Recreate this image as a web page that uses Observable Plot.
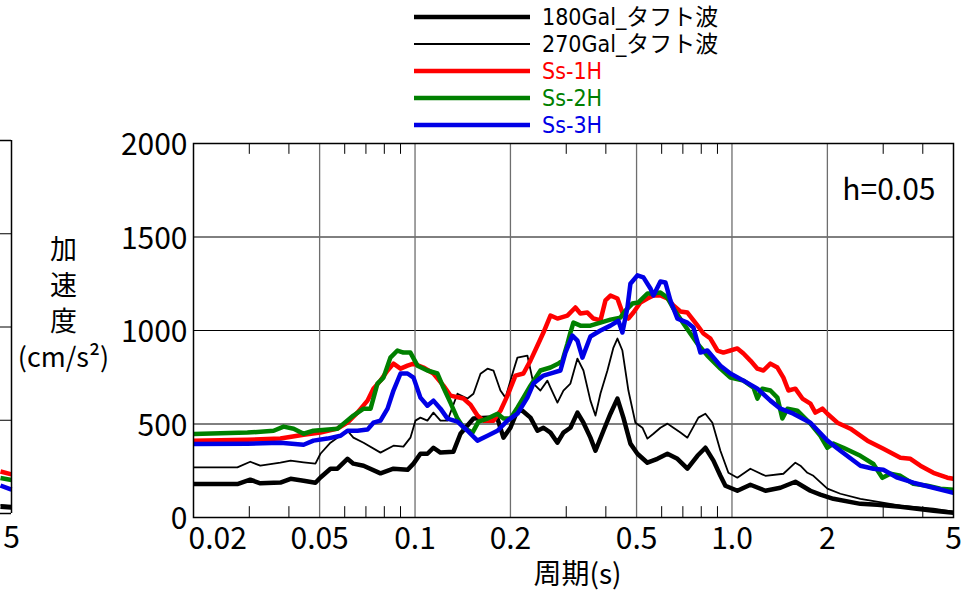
<!DOCTYPE html>
<html><head><meta charset="utf-8">
<script src="https://cdn.jsdelivr.net/npm/d3@7"></script>
<script src="https://cdn.jsdelivr.net/npm/@observablehq/plot@0.6"></script>
<style>
body{margin:0;background:#fff;}
#wrap{position:relative;width:967px;height:599px;overflow:hidden;}
#wrap svg{position:absolute;left:0;top:0;}
</style></head><body><div id="wrap"></div>
<script>
// ---- tick values and labels ----
const xTickValues = [0.02, 0.05, 0.1, 0.2, 0.5, 1, 2, 5];
const xTickLabels = ["0.02", "0.05", "0.1", "0.2", "0.5", "1.0", "2", "5"];
const xGrid = [0.05, 0.1, 0.2, 0.5, 1, 2];
const xMinor = [0.03, 0.04, 0.06, 0.07, 0.08, 0.09, 0.3, 0.4, 0.6, 0.7, 0.8, 0.9, 3, 4];
const yTickValues = [0, 500, 1000, 1500, 2000];
const yTickLabels = ["0", "500", "1000", "1500", "2000"];
const yGrid = [500, 1000, 1500];

// ---- series (period s, acceleration cm/s2) ----
const seriesNames = ["180Gal_タフト波", "270Gal_タフト波", "Ss-1H", "Ss-2H", "Ss-3H"];

const taft180 = [[0.02,179],[0.0275,179],[0.0302,202],[0.0325,183],[0.0376,187],[0.0405,207],[0.0445,197],[0.0485,186],[0.0503,214],[0.0541,261],[0.0569,261],[0.0612,314],[0.0639,288],[0.0688,277],[0.0778,236],[0.0855,261],[0.0947,255],[0.0989,288],[0.104,341],[0.1094,341],[0.1143,373],[0.1203,347],[0.1322,352],[0.1391,448],[0.1529,529],[0.1693,534],[0.182,529],[0.1901,427],[0.2,480],[0.2104,571],[0.2182,571],[0.2313,534],[0.2434,464],[0.2542,480],[0.2675,454],[0.2814,400],[0.2939,454],[0.3092,480],[0.3254,561],[0.3399,507],[0.3576,427],[0.3709,357],[0.3931,464],[0.4136,555],[0.4351,636],[0.4544,534],[0.4781,395],[0.5031,341],[0.541,293],[0.5818,314],[0.6257,341],[0.6728,314],[0.7235,261],[0.7781,330],[0.8245,373],[0.874,304],[0.9194,223],[0.9534,170],[1.04,143],[1.143,175],[1.275,143],[1.422,159],[1.585,191],[1.768,143],[1.901,122],[2.089,100],[2.542,73],[2.876,68],[3.4,57],[4.32,36],[5,25]];

const taft270 = [[0.02,268],[0.0275,268],[0.0302,298],[0.0325,277],[0.0376,293],[0.0405,304],[0.0445,295],[0.0485,288],[0.0503,341],[0.0541,400],[0.0582,438],[0.0612,464],[0.0639,427],[0.0688,400],[0.0778,347],[0.0855,384],[0.0919,379],[0.0967,427],[0.1003,518],[0.104,534],[0.1094,518],[0.1143,561],[0.1203,518],[0.1266,518],[0.1361,662],[0.1464,636],[0.1529,662],[0.1609,769],[0.1693,796],[0.1768,786],[0.186,679],[0.1929,641],[0.2044,786],[0.2104,855],[0.2262,866],[0.2364,716],[0.2487,679],[0.2616,732],[0.2675,695],[0.2814,614],[0.2939,679],[0.3092,716],[0.3254,850],[0.3399,786],[0.3576,625],[0.3709,545],[0.3847,663],[0.4046,786],[0.4227,909],[0.4351,957],[0.4511,893],[0.4712,679],[0.4958,507],[0.5217,480],[0.541,422],[0.5652,448],[0.5947,480],[0.6257,502],[0.6536,480],[0.6877,454],[0.7235,427],[0.7837,534],[0.8245,555],[0.8675,507],[0.9194,357],[0.9744,239],[1.04,213],[1.143,261],[1.275,223],[1.453,234],[1.585,293],[1.644,277],[1.73,239],[1.807,223],[2.0,154],[2.198,127],[2.542,100],[3.4,63],[4.32,47],[5,31]];

const ss1h = [[0.02,411],[0.0296,416],[0.0376,422],[0.0445,443],[0.0503,454],[0.0569,475],[0.0612,507],[0.0658,561],[0.0708,625],[0.0739,689],[0.0778,732],[0.0819,786],[0.0855,823],[0.09,796],[0.0947,812],[0.0989,823],[0.1063,802],[0.1143,770],[0.1229,705],[0.1293,652],[0.1422,636],[0.1496,603],[0.1574,545],[0.1644,518],[0.1768,518],[0.186,571],[0.1957,652],[0.2074,759],[0.2198,770],[0.2313,839],[0.2434,920],[0.2542,989],[0.2675,1080],[0.2814,1064],[0.3025,1080],[0.3206,1123],[0.3325,1091],[0.3499,1096],[0.3655,1064],[0.3847,1054],[0.3989,1161],[0.4136,1187],[0.4351,1171],[0.4511,1096],[0.4712,1064],[0.4887,1096],[0.5142,1150],[0.541,1171],[0.5652,1187],[0.5947,1187],[0.6257,1171],[0.6536,1134],[0.6877,1102],[0.7235,1096],[0.7781,1027],[0.8126,984],[0.855,957],[0.8996,893],[0.9396,882],[0.9886,893],[1.04,904],[1.087,877],[1.143,839],[1.203,796],[1.257,786],[1.322,823],[1.391,802],[1.453,748],[1.507,679],[1.585,689],[1.668,636],[1.768,609],[1.833,561],[1.929,582],[2.0,555],[2.151,507],[2.365,475],[2.675,411],[3.004,368],[3.4,320],[3.656,314],[3.93,277],[4.32,239],[4.78,213],[5,207]];

const ss2h = [[0.02,447],[0.0296,454],[0.0358,464],[0.0385,486],[0.0414,475],[0.0445,448],[0.0478,464],[0.0569,475],[0.0595,502],[0.0639,545],[0.0688,582],[0.0724,582],[0.0761,716],[0.0795,748],[0.0836,855],[0.088,893],[0.0919,882],[0.0967,882],[0.1018,812],[0.1094,786],[0.1177,770],[0.1229,695],[0.1293,614],[0.1361,529],[0.1422,480],[0.1518,454],[0.1586,513],[0.1693,529],[0.182,555],[0.1901,529],[0.2,529],[0.2104,587],[0.2198,641],[0.2313,705],[0.2487,786],[0.2675,802],[0.2835,823],[0.2918,839],[0.3025,929],[0.3092,989],[0.316,1042],[0.3325,1026],[0.3576,1026],[0.3847,1042],[0.4136,1058],[0.4446,1069],[0.4611,1106],[0.4851,1144],[0.5068,1150],[0.541,1198],[0.5652,1198],[0.5947,1203],[0.6257,1176],[0.6536,1117],[0.7028,1037],[0.7781,929],[0.8366,866],[0.9194,796],[0.9886,748],[1.087,732],[1.169,695],[1.203,636],[1.247,689],[1.322,679],[1.391,641],[1.442,529],[1.496,582],[1.608,571],[1.768,502],[1.901,437],[2.0,373],[2.089,395],[2.247,373],[2.542,330],[2.794,286],[2.982,212],[3.16,234],[3.4,223],[3.736,180],[4.136,170],[4.544,154],[5,148]];

const ss3h = [[0.02,393],[0.0296,395],[0.0376,400],[0.0445,389],[0.0478,411],[0.0529,422],[0.0582,437],[0.0612,464],[0.0658,464],[0.0708,470],[0.0739,507],[0.0778,518],[0.0819,582],[0.0855,679],[0.09,770],[0.0947,770],[0.0989,748],[0.104,641],[0.1094,598],[0.1143,625],[0.1203,582],[0.1266,529],[0.1361,513],[0.1464,464],[0.1574,411],[0.1693,437],[0.182,464],[0.1957,518],[0.2104,555],[0.2262,641],[0.2364,716],[0.2542,759],[0.2734,775],[0.2876,786],[0.2982,882],[0.3137,973],[0.3254,946],[0.3374,855],[0.3576,968],[0.3847,1000],[0.4136,1026],[0.4383,1052],[0.4511,989],[0.4678,1122],[0.4781,1250],[0.5031,1295],[0.5255,1284],[0.553,1225],[0.5652,1187],[0.5947,1262],[0.6166,1257],[0.6395,1160],[0.6728,1063],[0.7235,1042],[0.7558,1016],[0.7951,882],[0.8366,893],[0.9194,812],[0.9886,770],[1.087,732],[1.203,689],[1.322,625],[1.422,582],[1.562,555],[1.768,507],[2.0,411],[2.198,357],[2.542,277],[2.794,261],[3.004,255],[3.326,213],[3.736,186],[4.32,159],[5,132]];

// tails of the neighbouring (cut-off) panel on the left
const leftTail180 = [[4.6,36],[5,32]];
const leftTail270 = [[4.6,46],[5,42]];
const leftTailSs1 = [[4.6,225],[5,210]];
const leftTailSs2 = [[4.6,190],[5,180]];
const leftTailSs3 = [[4.6,150],[5,128]];

// ---- styles ----
const FONT = '"Noto Sans CJK JP", "Noto Sans CJK SC", sans-serif';
const LEGFONT = '"DejaVu Sans Condensed", "Noto Sans CJK JP", sans-serif';
const seriesColors = ["#000000", "#000000", "#ff0000", "#008000", "#0000e6"];
const seriesWidths = [4.5, 1.8, 4.5, 4.5, 4.5];

const wrap = document.getElementById("wrap");

function lineMarks(sets) {
  return sets.map((d, i) => Plot.line(d, {
    x: p => p[0], y: p => p[1],
    stroke: seriesColors[i], strokeWidth: seriesWidths[i],
    strokeLinejoin: "round", strokeLinecap: "butt"
  }));
}

// left, cut-off panel
const leftPlot = Plot.plot({
  width: 40, height: 599,
  marginLeft: 0, marginRight: 29, marginTop: 140, marginBottom: 86,
  x: {type: "log", domain: [4.6, 5], axis: null},
  y: {domain: [0, 2000], axis: null},
  style: {fontFamily: FONT, fontSize: "30px", background: "transparent", overflow: "visible"},
  marks: [
    Plot.ruleY(yGrid, {stroke: "#000", strokeWidth: 1}),
    ...lineMarks([leftTail180, leftTail270, leftTailSs1, leftTailSs2, leftTailSs3]),
    Plot.ruleX([5], {stroke: "#000", strokeWidth: 1.5}),
    Plot.ruleY([0, 2000], {stroke: "#000", strokeWidth: 1.5}),
    Plot.text([5], {x: [5], text: ["5"], frameAnchor: "bottom", textAnchor: "middle", dy: 34, fontSize: 30})
  ]
});
wrap.appendChild(leftPlot);

const main = Plot.plot({
  width: 967, height: 599,
  marginLeft: 193, marginRight: 14, marginTop: 143, marginBottom: 82,
  x: {type: "log", domain: [0.02, 5], axis: null},
  y: {domain: [0, 2000], axis: null},
  style: {fontFamily: FONT, fontSize: "30px", background: "transparent", color: "#000", overflow: "visible"},
  marks: [
    Plot.ruleY(yGrid, {stroke: "#000", strokeWidth: 1}),
    Plot.ruleX(xGrid, {stroke: "#6e6e6e", strokeWidth: 1.3}),
    Plot.ruleX(xMinor, {y1: 0, y2: 58, stroke: "#000", strokeWidth: 1}),
    Plot.ruleX(xMinor, {y1: 2000, y2: 1942, stroke: "#000", strokeWidth: 1}),
    ...lineMarks([taft180, taft270, ss1h, ss2h, ss3h]),
    Plot.frame({stroke: "#000", strokeWidth: 1.5}),
    Plot.text(yTickValues, {y: yTickValues, text: yTickLabels, frameAnchor: "left", textAnchor: "end", dx: -6, dy: 2, fontSize: 30}),
    Plot.text(xTickValues.slice(0, 1), {x: xTickValues.slice(0, 1), text: xTickLabels.slice(0, 1), frameAnchor: "bottom", textAnchor: "start", dx: -5, dy: 31, fontSize: 30}),
    Plot.text(xTickValues.slice(1), {x: xTickValues.slice(1), text: xTickLabels.slice(1), frameAnchor: "bottom", textAnchor: "middle", dy: 31, fontSize: 30}),
    Plot.text(["加\n速\n度\n(cm/s²)"], {frameAnchor: "left", textAnchor: "middle", dx: -130, dy: -29, fontSize: 27, lineHeight: 1.34}),
    Plot.text(["周期(s)"], {frameAnchor: "bottom", textAnchor: "middle", dx: 4, dy: 66, fontSize: 28}),
    Plot.text(["h=0.05"], {frameAnchor: "top-right", textAnchor: "end", dx: -18, dy: 35, fontSize: 30})
  ]
});
wrap.appendChild(main);

// legend
const leg = d3.create("svg").attr("width", 967).attr("height", 140)
  .style("font-family", LEGFONT);
seriesNames.forEach((name, i) => {
  const y = 17 + i * 27;
  leg.append("line").attr("x1", 414).attr("x2", 530).attr("y1", y).attr("y2", y)
    .attr("stroke", seriesColors[i]).attr("stroke-width", i === 1 ? 2 : 4.5);
  leg.append("text").attr("x", 542).attr("y", y).attr("dy", "0.36em")
    .attr("fill", seriesColors[i]).attr("font-size", 23).text(name);
});
wrap.appendChild(leg.node());
</script>
</body></html>
